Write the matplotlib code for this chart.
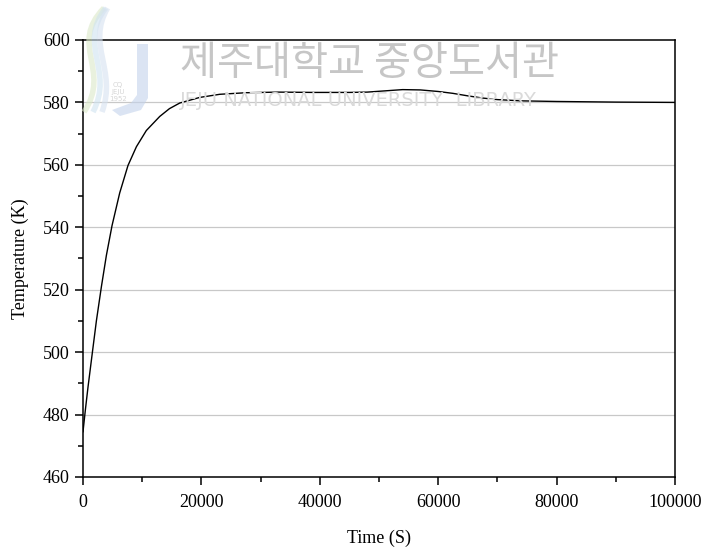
import numpy as np
import matplotlib.pyplot as plt
from matplotlib.patches import PathPatch
from matplotlib.path import Path

# values
time_s = [0, 400, 845, 1590, 2260, 3110, 3950, 4900, 6200, 7600, 9020, 10700,
          12960, 14600, 16340, 19720, 23100, 27500, 33000, 39000, 45000, 48000,
          51000, 54000, 57000, 60000, 62500, 65000, 67500, 70000, 74000, 80000,
          90000, 100000]
temp_k = [474.5, 481.5, 488.8, 500.0, 510.0, 521.0, 531.0, 540.5, 551.0, 559.8, 565.8, 571.0,
          575.5, 578.0, 579.8, 581.6, 582.6, 583.1, 583.3, 583.2, 583.2, 583.3,
          583.7, 584.1, 584.0, 583.5, 582.9, 582.1, 581.4, 580.9, 580.5, 580.3,
          580.1, 580.0]

x_ticks = [0, 20000, 40000, 60000, 80000, 100000]
y_ticks = [460, 480, 500, 520, 540, 560, 580, 600]

plt.rcParams['font.family'] = ['Liberation Serif', 'DejaVu Serif']

fig = plt.figure(figsize=(7.07, 5.47), dpi=100)
ax = fig.add_axes([0.1174, 0.128, 0.8373, 0.7989])

for y in y_ticks[1:-1]:
    ax.axhline(y, color='#c8c8c8', lw=0.9, zorder=1)

ax.plot(time_s, temp_k, color='black', lw=1.0, zorder=3)

ax.set_xlim(0, 100000)
ax.set_ylim(460, 600)
ax.set_xticks(x_ticks)
ax.set_yticks(y_ticks)
ax.set_xticks(np.arange(10000, 100000, 20000), minor=True)
ax.set_yticks(np.arange(470, 600, 20), minor=True)
ax.tick_params(which='major', direction='out', length=6, width=1.1, labelsize=13)
ax.tick_params(axis='x', which='major', pad=6)
ax.tick_params(which='minor', direction='out', length=3.3, width=1.1)
ax.tick_params(top=False, right=False, which='both')
for s in ax.spines.values():
    s.set_linewidth(1.1)

ax.set_xlabel('Time (S)', fontsize=13, labelpad=14)
ax.set_ylabel('Temperature (K)', fontsize=13, labelpad=10)

# library watermark
fig.text(180 / 707, 1 - 64 / 547, '제주대학교 중앙도서관', fontsize=29, color='#c6c6c6',
         family=['Noto Sans CJK KR'], ha='left', va='center', zorder=0)
fig.text(180 / 707, 1 - 100 / 547, 'JEJU NATIONAL UNIVERSITY  LIBRARY', fontsize=14,
         color='#dadada', family=['DejaVu Sans'], ha='left', va='center', zorder=0)

# logo, rough
def px(x, y):
    return (x / 707, 1 - y / 547)

j_verts = [px(137, 44), px(148, 44), px(148, 98), px(141, 110), px(120, 116),
           px(112, 110), px(131, 103), px(137, 95), px(137, 44)]
j_codes = [Path.MOVETO] + [Path.LINETO] * (len(j_verts) - 2) + [Path.CLOSEPOLY]
fig.patches.append(PathPatch(Path(j_verts, j_codes), transform=fig.transFigure,
                             facecolor='#c3d3ec', edgecolor='none', alpha=0.6, zorder=0))
for off, col in [(0, '#dbe9c8'), (9, '#cfe3f0'), (18, '#d6e2f0')]:
    verts = [px(104 + off * 0.2, 8), px(68 + off, 45), px(112 + off * 0.3, 70), px(84 + off, 112)]
    codes = [Path.MOVETO, Path.CURVE4, Path.CURVE4, Path.CURVE4]
    fig.patches.append(PathPatch(Path(verts, codes), transform=fig.transFigure,
                                 facecolor='none', edgecolor=col, lw=4, alpha=0.6, zorder=0))
fig.text(118 / 707, 1 - 92 / 547, 'CQ\nJEJU\n1952', fontsize=5, color='#d6d6d6',
         family=['DejaVu Sans'], ha='center', va='center', linespacing=1.2, zorder=0)

fig.savefig('out.png', dpi=100)
